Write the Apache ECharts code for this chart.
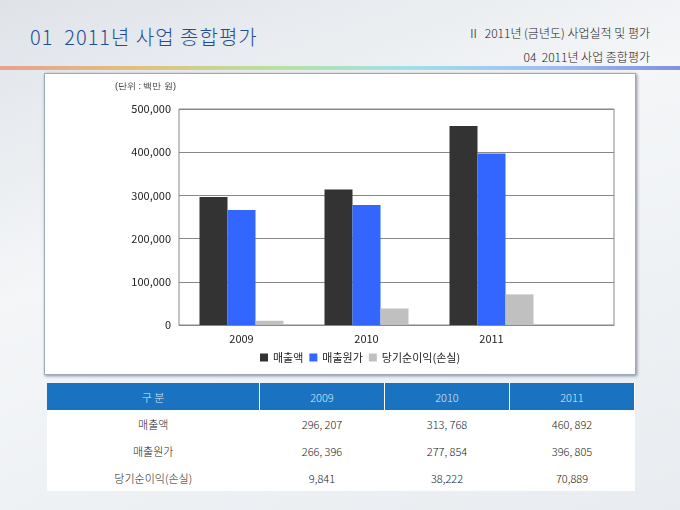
<!DOCTYPE html>
<html>
<head>
<meta charset="utf-8" />
<script src="https://cdn.jsdelivr.net/npm/echarts@6/dist/echarts.min.js"></script>
<style>
body{margin:0;width:680px;height:510px;overflow:hidden;font-family:"Noto Sans CJK KR",sans-serif;
 background:linear-gradient(160deg,#dfe3e8 0%,#f4f6f8 40%,#e8ecf0 100%);position:relative}
.t1{position:absolute;left:30px;top:22px;font-size:20px;color:#1f4e96;font-weight:300;letter-spacing:1px}
.t2{position:absolute;right:30px;top:24px;font-size:12px;color:#222;font-weight:300}
.t3{position:absolute;right:30px;top:48px;font-size:12px;color:#222;font-weight:300}
.bar{position:absolute;left:0;top:66px;width:680px;height:4px;
 background:linear-gradient(90deg,#e8a090,#e0c080,#b8e0a0,#a0e0e8,#a0c0f0,#8090e0)}
#box{position:absolute;left:44px;top:73px;width:590px;height:300px;background:#fff;border:1px solid #9ab;box-shadow:1px 1px 3px #889}
table{position:absolute;left:47px;top:383px;width:588px;border-collapse:collapse;font-size:11px;color:#222;background:#fff;font-weight:300}
th{background:#1a73c0;color:#dbe8f6;font-weight:300;height:25px;border-right:1px solid #fff}
td{text-align:center;height:25px}
</style>
</head>
<body>
<div class="t1">01&nbsp; 2011년 사업 종합평가</div>
<div class="t2">Ⅱ&nbsp; 2011년 (금년도) 사업실적 및 평가</div>
<div class="t3">04&nbsp; 2011년 사업 종합평가</div>
<div class="bar"></div>
<div id="box"></div>
<table id="tbl"></table>
<script>
var years = ['2009', '2010', '2011'];
var seriesNames = ['매출액', '매출원가', '당기순이익(손실)'];
var sales = [296207, 313768, 460892];
var cost = [266396, 277854, 396805];
var profit = [9841, 38222, 70889];
var colors = ['#333333', '#3366ff', '#c0c0c0'];

var rows = [sales, cost, profit];
var html = '<tr><th style="width:210px">구 분</th>' + years.map(function (y) { return '<th>' + y + '</th>'; }).join('') + '</tr>';
rows.forEach(function (r, i) {
  html += '<tr><td>' + seriesNames[i] + '</td>' + r.map(function (v) {
    var s = v.toLocaleString('en-US');
    return '<td>' + (i < 2 ? s.replace(',', ', ') : s) + '</td>';
  }).join('') + '</tr>';
});
document.getElementById('tbl').innerHTML = html;

var myChart = echarts.init(document.getElementById('box'));
myChart.setOption({
  animation: false,
  textStyle: { fontFamily: 'Noto Sans CJK KR' },
  graphic: [{ type: 'text', left: 70, top: 8, style: { text: '(단위 : 백만 원)', fontSize: 9, fill: '#333' } }],
  legend: {
    bottom: 6, left: 210, itemWidth: 8, itemHeight: 8, itemGap: 6,
    textStyle: { fontSize: 11, color: '#222' },
    data: seriesNames.map(function (n) { return { name: n, icon: 'rect' }; })
  },
  grid: [
    { left: 134, top: 35, right: 21, bottom: 49, show: true, borderColor: '#888', borderWidth: 1 },
    { left: 134, top: 35, right: 81, bottom: 49 }
  ],
  xAxis: [
    { type: 'category', gridIndex: 0, data: [], axisLine: { lineStyle: { color: '#888' } },
      axisTick: { show: false }, axisLabel: { show: false } },
    { type: 'category', gridIndex: 1, data: years, axisLine: { show: false },
      axisTick: { show: false }, axisLabel: { fontSize: 11, color: '#222' } }
  ],
  yAxis: [
    { type: 'value', gridIndex: 0, min: 0, max: 500000, interval: 100000,
      axisLine: { show: false }, axisTick: { show: false },
      splitLine: { lineStyle: { color: '#888' } },
      axisLabel: { fontSize: 11, color: '#222', formatter: function (v) { return v.toLocaleString('en-US'); } } },
    { type: 'value', gridIndex: 1, min: 0, max: 500000, interval: 100000, show: false }
  ],
  series: [sales, cost, profit].map(function (d, i) {
    return { name: seriesNames[i], type: 'bar', data: d, barWidth: 28, barGap: '0%',
      xAxisIndex: 1, yAxisIndex: 1, itemStyle: { color: colors[i] } };
  })
});
</script>
</body>
</html>
